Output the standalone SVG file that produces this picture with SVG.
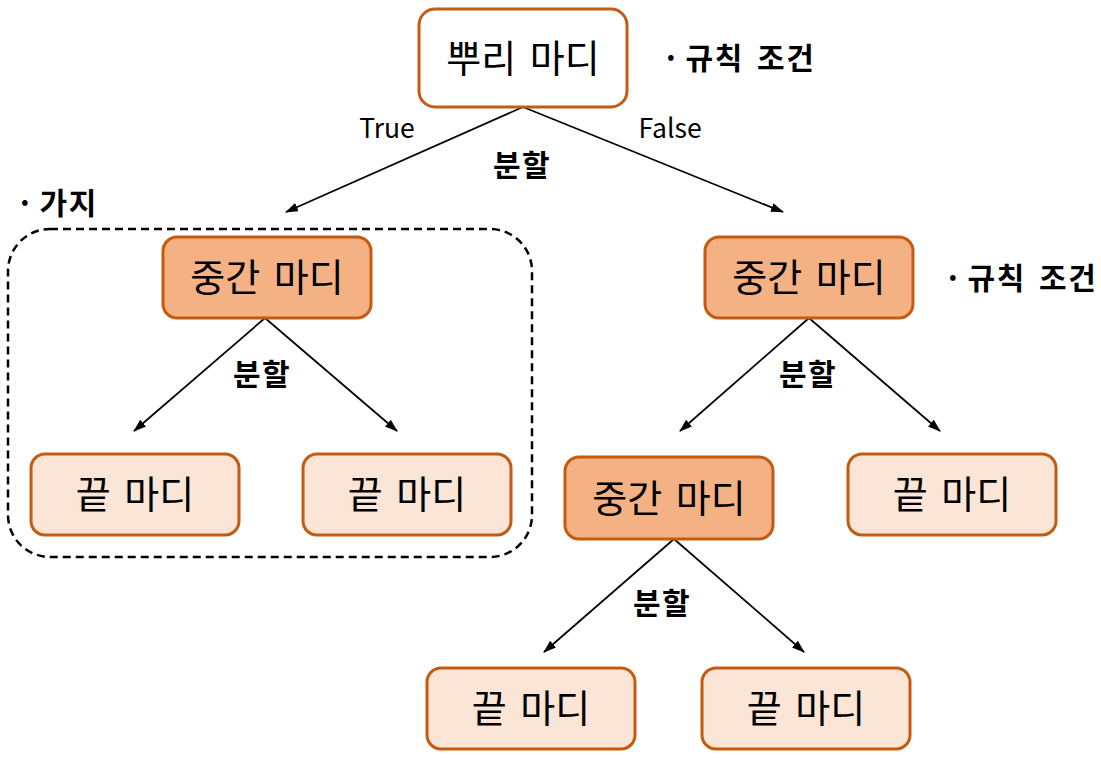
<svg xmlns="http://www.w3.org/2000/svg" width="1101" height="758" viewBox="0 0 1101 758">
<style>
.box{stroke:#C55A11;stroke-width:3}
.root{fill:#FFFFFF}
.mid{fill:#F4B183}
.leaf{fill:#FBE5D6}
.nt{font-family:"Noto Sans CJK KR","Malgun Gothic",sans-serif;font-size:38px;word-spacing:5px;fill:#000;text-anchor:middle}
.lb{font-family:"Noto Sans CJK KR","Malgun Gothic",sans-serif;font-size:30px;font-weight:bold;letter-spacing:1.5px;word-spacing:5px;fill:#000}
.gap{word-spacing:-4px}
.tf{font-family:"Noto Sans CJK KR","Malgun Gothic",sans-serif;font-size:26.5px;fill:#000;text-anchor:middle}
.ln{stroke:#000;stroke-width:1.7;fill:none;marker-end:url(#ah)}
</style>
<defs>
<marker id="ah" markerUnits="userSpaceOnUse" markerWidth="13" markerHeight="10" refX="12" refY="4.5" orient="auto">
<path d="M0,0 L13,4.5 L0,9 Z" fill="#000"/>
</marker>
</defs>
<rect x="0" y="0" width="1101" height="758" fill="#fff"/>

<g id="branch-group">
<rect x="8" y="229" width="524" height="328" rx="42" ry="42" fill="none" stroke="#000" stroke-width="2.5" stroke-dasharray="8,5"/>
</g>

<g id="connectors">
<line class="ln" x1="523" y1="107" x2="286" y2="212"/>
<line class="ln" x1="523" y1="107" x2="783" y2="212"/>
<line class="ln" x1="265" y1="318" x2="134" y2="431"/>
<line class="ln" x1="265" y1="318" x2="397" y2="431"/>
<line class="ln" x1="809" y1="318" x2="680" y2="431"/>
<line class="ln" x1="809" y1="318" x2="940" y2="431"/>
<line class="ln" x1="674" y1="539" x2="544" y2="652"/>
<line class="ln" x1="674" y1="539" x2="804" y2="652"/>
</g>

<g id="labels">
<text class="tf" x="387" y="138">True</text>
<text class="tf" x="670" y="138">False</text>
<text class="lb" x="522" y="176" text-anchor="middle">분할</text>
<text class="lb" x="262" y="385" text-anchor="middle">분할</text>
<text class="lb" x="808" y="385" text-anchor="middle">분할</text>
<text class="lb" x="662" y="614" text-anchor="middle">분할</text>
<text class="lb" x="662" y="69">·<tspan class="gap"> </tspan>규칙 조건</text>
<text class="lb" x="944" y="289">·<tspan class="gap"> </tspan>규칙 조건</text>
<text class="lb" x="16" y="214">·<tspan class="gap"> </tspan>가지</text>
</g>

<g id="root">
<rect class="box root" x="419" y="9" width="208" height="98" rx="16" ry="16"/>
<text class="nt" x="523" y="72">뿌리 마디</text>
</g>

<g id="mid-left">
<rect class="box mid" x="163" y="237" width="208" height="81" rx="14" ry="14"/>
<text class="nt" x="267" y="291">중간 마디</text>
</g>

<g id="mid-right">
<rect class="box mid" x="705" y="237" width="208" height="81" rx="14" ry="14"/>
<text class="nt" x="809" y="291">중간 마디</text>
</g>

<g id="mid-lower">
<rect class="box mid" x="565" y="457" width="208" height="82" rx="14" ry="14"/>
<text class="nt" x="669" y="512">중간 마디</text>
</g>

<g id="leaf-1">
<rect class="box leaf" x="31" y="454" width="208" height="81" rx="14" ry="14"/>
<text class="nt" x="135" y="508">끝 마디</text>
</g>

<g id="leaf-2">
<rect class="box leaf" x="303" y="454" width="208" height="81" rx="14" ry="14"/>
<text class="nt" x="407" y="508">끝 마디</text>
</g>

<g id="leaf-3">
<rect class="box leaf" x="848" y="454" width="208" height="81" rx="14" ry="14"/>
<text class="nt" x="952" y="508">끝 마디</text>
</g>

<g id="leaf-4">
<rect class="box leaf" x="427" y="668" width="208" height="81" rx="14" ry="14"/>
<text class="nt" x="531" y="722">끝 마디</text>
</g>

<g id="leaf-5">
<rect class="box leaf" x="702" y="668" width="208" height="81" rx="14" ry="14"/>
<text class="nt" x="806" y="722">끝 마디</text>
</g>
</svg>
